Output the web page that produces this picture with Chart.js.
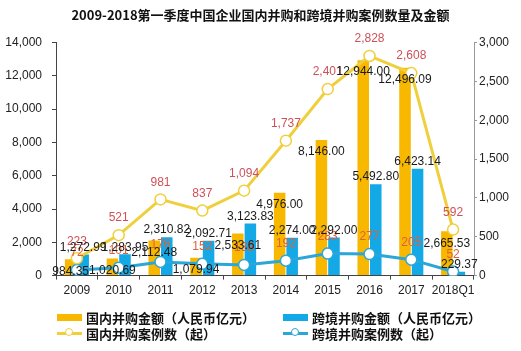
<!DOCTYPE html>
<html>
<head>
<meta charset="utf-8">
<script src="https://cdn.jsdelivr.net/npm/chart.js@4.4.0/dist/chart.umd.min.js"></script>
<style>
  html, body { margin: 0; padding: 0; background: #fff; }
  #wrap { position: relative; width: 521px; height: 351px; overflow: hidden; }
  #legend { position: absolute; left: 0; top: 0; width: 521px; height: 351px; pointer-events: none;
    font-family: "Noto Sans CJK SC", sans-serif; font-weight: bold; font-size: 13px; color: #111; }
  .item { position: absolute; display: flex; align-items: center; height: 16px; }
  .box { width: 25px; height: 7px; margin-right: 4px; }
  .ln { position: relative; width: 25px; height: 3px; margin-right: 4px; }
  .ln i { position: absolute; left: 8px; top: -3.5px; width: 6px; height: 6px; border-radius: 50%; background: #fff; border: 1.5px solid; }
</style>
</head>
<body>
<div id="wrap">
  <canvas id="chart" width="521" height="351"></canvas>
  <div id="legend"></div>
</div>
<script>
// 年份
const years = ['2009', '2010', '2011', '2012', '2013', '2014', '2015', '2016', '2017', '2018Q1'];

// 并购金额（人民币亿元）
const domesticAmount = [984.35, 1020.69, 2112.48, 1079.94, 2533.61, 4976.00, 8146.00, 12944.00, 12496.09, 2665.53];
const crossAmount = [1272.99, 1283.95, 2310.82, 2092.71, 3123.83, 2274.00, 2292.00, 5492.80, 6423.14, 229.37];

// 并购案例数（起）
const domesticCount = [223, 521, 981, 837, 1094, 1737, 2401, 2828, 2608, 592];
const crossCount = [72, 101, 176, 152, 138, 192, 283, 277, 205, 52];

// 坐标轴刻度
const leftTicks = [0, 2000, 4000, 6000, 8000, 10000, 12000, 14000];
const rightTicks = [0, 500, 1000, 1500, 2000, 2500, 3000];

const yellowBar = '#f8b800';
const blueBar = '#12a9e6';
const yellowLine = '#f0cf3c';
const blueLine = '#2ba6d9';

const fmt2 = v => v.toLocaleString('en-US', { minimumFractionDigits: 2, maximumFractionDigits: 2 });
const fmt0 = v => v.toLocaleString('en-US');

// 数据标签
const labelPlugin = {
  id: 'labels',
  afterDatasetsDraw(chart) {
    const ctx = chart.ctx;
    ctx.save();
    ctx.textAlign = 'center';
    ctx.textBaseline = 'middle';
    ctx.font = '12px "Liberation Sans", Arial, sans-serif';
    chart.data.datasets.forEach((ds, i) => {
      const meta = chart.getDatasetMeta(i);
      meta.data.forEach((el, j) => {
        const v = ds.data[j];
        if (ds.type === 'bar') {
          ctx.fillStyle = '#1a1a1a';
          ctx.fillText(fmt2(v), el.x, el.y + ds.labelShift);
        } else {
          ctx.fillStyle = ds.labelColor;
          ctx.fillText(fmt0(v), el.x, el.y - 17);
        }
      });
    });
    ctx.restore();
  }
};

const chart = new Chart(document.getElementById('chart'), {
  data: {
    labels: years,
    datasets: [
      {
        type: 'line',
        label: '国内并购案例数（起）',
        data: domesticCount,
        yAxisID: 'y1',
        borderColor: yellowLine,
        borderWidth: 3,
        pointRadius: 5.5,
        pointBackgroundColor: '#fff',
        pointBorderColor: yellowLine,
        pointBorderWidth: 1.5,
        tension: 0,
        labelColor: '#cf5058',
        order: 1
      },
      {
        type: 'line',
        label: '跨境并购案例数（起）',
        data: crossCount,
        yAxisID: 'y1',
        borderColor: blueLine,
        borderWidth: 3,
        pointRadius: 5.5,
        pointBackgroundColor: '#fff',
        pointBorderColor: blueLine,
        pointBorderWidth: 1.5,
        tension: 0,
        labelColor: '#e0603c',
        order: 1
      },
      {
        type: 'bar',
        label: '国内并购金额（人民币亿元）',
        data: domesticAmount,
        yAxisID: 'y',
        backgroundColor: yellowBar,
        categoryPercentage: 0.6,
        barPercentage: 0.92,
        labelShift: 12,
        order: 2
      },
      {
        type: 'bar',
        label: '跨境并购金额（人民币亿元）',
        data: crossAmount,
        yAxisID: 'y',
        backgroundColor: blueBar,
        categoryPercentage: 0.6,
        barPercentage: 0.92,
        labelShift: -7,
        order: 2
      }
    ]
  },
  options: {
    responsive: false,
    animation: false,
    layout: { padding: { left: 0, right: 0, top: 0, bottom: 49 } },
    plugins: {
      legend: { display: false },
      tooltip: { enabled: false },
      title: {
        display: true,
        text: '2009-2018第一季度中国企业国内并购和跨境并购案例数量及金额',
        color: '#111',
        font: { family: '"Noto Sans CJK SC", sans-serif', size: 13, weight: 'bold' },
        padding: { top: 7, bottom: 20 }
      }
    },
    scales: {
      x: {
        grid: { display: true, drawOnChartArea: false, drawTicks: true, tickLength: 4, color: '#444', offset: true },
        border: { display: true, color: '#444', width: 1 },
        ticks: { color: '#222', font: { family: '"Liberation Sans", Arial, sans-serif', size: 12 }, padding: 4, maxRotation: 0, autoSkip: false }
      },
      y: {
        position: 'left',
        min: 0,
        max: 14000,
        afterBuildTicks: s => { s.ticks = leftTicks.map(v => ({ value: v })); },
        afterFit: s => { s.width = 56; },
        grid: { display: true, drawOnChartArea: false, drawTicks: true, tickLength: 4, color: '#444' },
        border: { display: true, color: '#444', width: 1 },
        ticks: { color: '#222', font: { family: '"Liberation Sans", Arial, sans-serif', size: 12 }, padding: 10, callback: v => fmt0(v) }
      },
      y1: {
        position: 'right',
        min: 0,
        max: 3000,
        afterBuildTicks: s => { s.ticks = rightTicks.map(v => ({ value: v })); },
        afterFit: s => { s.width = 47; },
        grid: { display: true, drawOnChartArea: false, drawTicks: true, tickLength: 3, color: '#999' },
        border: { display: true, color: '#999', width: 1 },
        ticks: { color: '#222', font: { family: '"Liberation Sans", Arial, sans-serif', size: 12 }, padding: 2, callback: v => fmt0(v) }
      }
    }
  },
  plugins: [labelPlugin]
});

// 图例（两列两行）
const legendItems = [
  { ds: 2, kind: 'box', left: 57, top: 309 },
  { ds: 3, kind: 'box', left: 283, top: 309 },
  { ds: 0, kind: 'line', left: 57, top: 325 },
  { ds: 1, kind: 'line', left: 283, top: 325 }
];
const legend = document.getElementById('legend');
legendItems.forEach(it => {
  const ds = chart.data.datasets[it.ds];
  const d = document.createElement('div');
  d.className = 'item';
  d.style.left = it.left + 'px';
  d.style.top = it.top + 'px';
  if (it.kind === 'box') {
    d.innerHTML = `<span class="box" style="background:${ds.backgroundColor}"></span>`;
  } else {
    d.innerHTML = `<span class="ln" style="background:${ds.borderColor}"><i style="border-color:${ds.borderColor}"></i></span>`;
  }
  const t = document.createElement('span');
  t.textContent = ds.label;
  d.appendChild(t);
  legend.appendChild(d);
});
</script>
</body>
</html>
